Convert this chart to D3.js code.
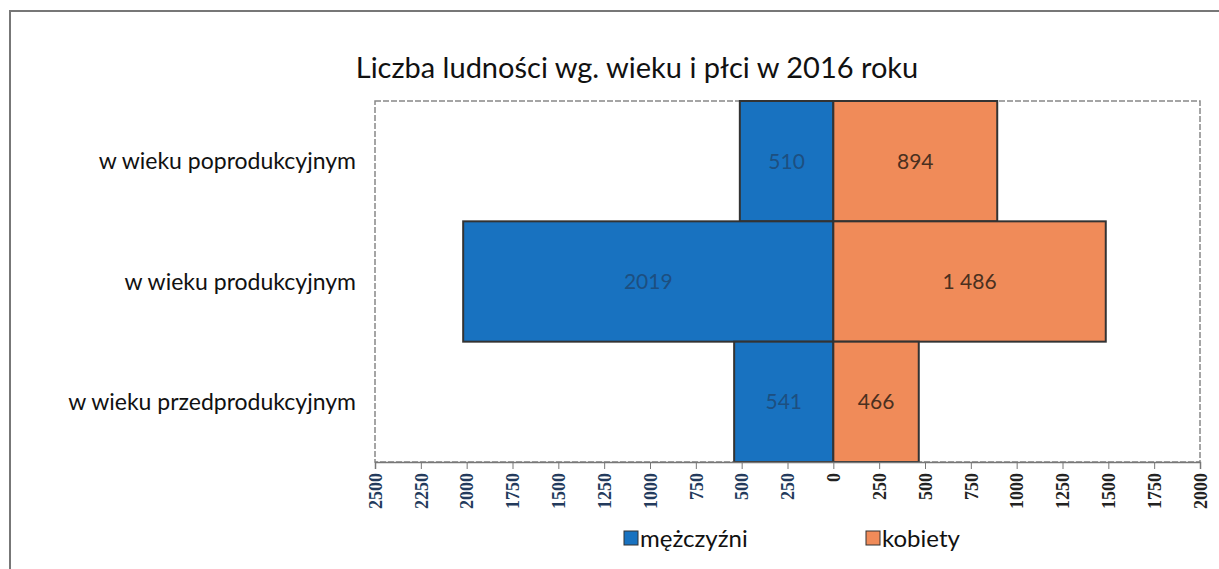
<!DOCTYPE html>
<html>
<head>
<meta charset="utf-8">
<script src="https://cdn.jsdelivr.net/npm/d3@7"></script>
<style>
  body { margin: 0; background: #fff; }
  svg text { font-family: "Lato", "Open Sans", sans-serif; }
</style>
</head>
<body>
<div id="chart"></div>
<script>
// data
const categories = ["w wieku poprodukcyjnym", "w wieku produkcyjnym", "w wieku przedprodukcyjnym"];
const men = [510, 2019, 541];
const women = [894, 1486, 466];
const menLabels = ["510", "2019", "541"];
const womenLabels = ["894", "1 486", "466"];
const tickValues = [-2500, -2250, -2000, -1750, -1500, -1250, -1000, -750, -500, -250, 0, 250, 500, 750, 1000, 1250, 1500, 1750, 2000];
const seriesNames = ["mężczyźni", "kobiety"];
const colors = ["#1872c0", "#f08b59"];

const width = 1219, height = 569;
const plot = { left: 375, right: 1200, top: 101, bottom: 462 };

const svg = d3.select("#chart").append("svg")
    .attr("width", width)
    .attr("height", height);

// chart frame (scanned page edge)
svg.append("path")
    .attr("d", "M10,569 L10,11 L1219,11")
    .style("fill", "none")
    .style("stroke", "#777")
    .style("stroke-width", 2);

svg.append("text")
    .attr("x", 637)
    .attr("y", 78)
    .attr("text-anchor", "middle")
    .style("font-size", "29px")
    .style("fill", "#111")
    .text("Liczba ludności wg. wieku i płci w 2016 roku");

const xScale = d3.scaleLinear()
    .domain([-2500, 2000])
    .range([plot.left, plot.right]);

const yScale = d3.scaleBand()
    .domain(categories)
    .range([plot.top, plot.bottom])
    .padding(0);

// plot area border
svg.append("rect")
    .attr("x", plot.left)
    .attr("y", plot.top)
    .attr("width", plot.right - plot.left)
    .attr("height", plot.bottom - plot.top)
    .style("fill", "none")
    .style("stroke", "#888")
    .style("stroke-width", 1.5)
    .style("stroke-dasharray", "6,2");

// men bars (to the left)
svg.selectAll(".men")
    .data(categories)
    .enter().append("rect")
    .attr("class", "men")
    .attr("x", (d, i) => xScale(-men[i]))
    .attr("y", d => yScale(d))
    .attr("width", (d, i) => xScale(0) - xScale(-men[i]))
    .attr("height", yScale.bandwidth())
    .style("fill", colors[0])
    .style("stroke", "#333")
    .style("stroke-width", 2);

// women bars (to the right)
svg.selectAll(".women")
    .data(categories)
    .enter().append("rect")
    .attr("class", "women")
    .attr("x", xScale(0))
    .attr("y", d => yScale(d))
    .attr("width", (d, i) => xScale(women[i]) - xScale(0))
    .attr("height", yScale.bandwidth())
    .style("fill", colors[1])
    .style("stroke", "#333")
    .style("stroke-width", 2);

// value labels
svg.selectAll(".menLabel")
    .data(categories)
    .enter().append("text")
    .attr("x", (d, i) => (xScale(-men[i]) + xScale(0)) / 2)
    .attr("y", d => yScale(d) + yScale.bandwidth() / 2)
    .attr("dy", "0.35em")
    .attr("text-anchor", "middle")
    .style("font-size", "21px")
    .style("fill", "#1d4f80")
    .text((d, i) => menLabels[i]);

svg.selectAll(".womenLabel")
    .data(categories)
    .enter().append("text")
    .attr("x", (d, i) => (xScale(women[i]) + xScale(0)) / 2)
    .attr("y", d => yScale(d) + yScale.bandwidth() / 2)
    .attr("dy", "0.35em")
    .attr("text-anchor", "middle")
    .style("font-size", "21px")
    .style("fill", "#4a3020")
    .text((d, i) => womenLabels[i]);

// category labels
svg.selectAll(".cat")
    .data(categories)
    .enter().append("text")
    .attr("x", 356)
    .attr("y", d => yScale(d) + yScale.bandwidth() / 2)
    .attr("dy", "0.35em")
    .attr("text-anchor", "end")
    .style("font-size", "23px")
    .style("fill", "#111")
    .text(d => d);

// bottom axis
const xAxis = d3.axisBottom(xScale)
    .tickValues(tickValues)
    .tickSize(7)
    .tickFormat(d => Math.abs(d));

const axisG = svg.append("g")
    .attr("transform", `translate(0, ${plot.bottom})`)
    .call(xAxis);

axisG.select(".domain").style("stroke", "#777").style("stroke-width", 1.5);
axisG.selectAll(".tick line").style("stroke", "#777");
axisG.selectAll(".tick text")
    .attr("transform", "rotate(-90)")
    .attr("x", -11)
    .attr("y", 0)
    .attr("dy", "0.35em")
    .attr("text-anchor", "end")
    .style("font-family", "'Liberation Serif', serif")
    .style("font-weight", "bold")
    .style("font-size", "18px")
    .style("fill", d => d < 0 ? "#233a5c" : "#222");

// legend
const legendX = [624, 866];
seriesNames.forEach((name, i) => {
    svg.append("rect")
        .attr("x", legendX[i])
        .attr("y", 531)
        .attr("width", 14)
        .attr("height", 14)
        .style("fill", colors[i])
        .style("stroke", "#333")
        .style("stroke-width", 1);
    svg.append("text")
        .attr("x", legendX[i] + 16)
        .attr("y", 539)
        .attr("dy", "0.35em")
        .style("font-size", "24px")
        .style("fill", "#111")
        .text(name);
});
</script>
</body>
</html>
